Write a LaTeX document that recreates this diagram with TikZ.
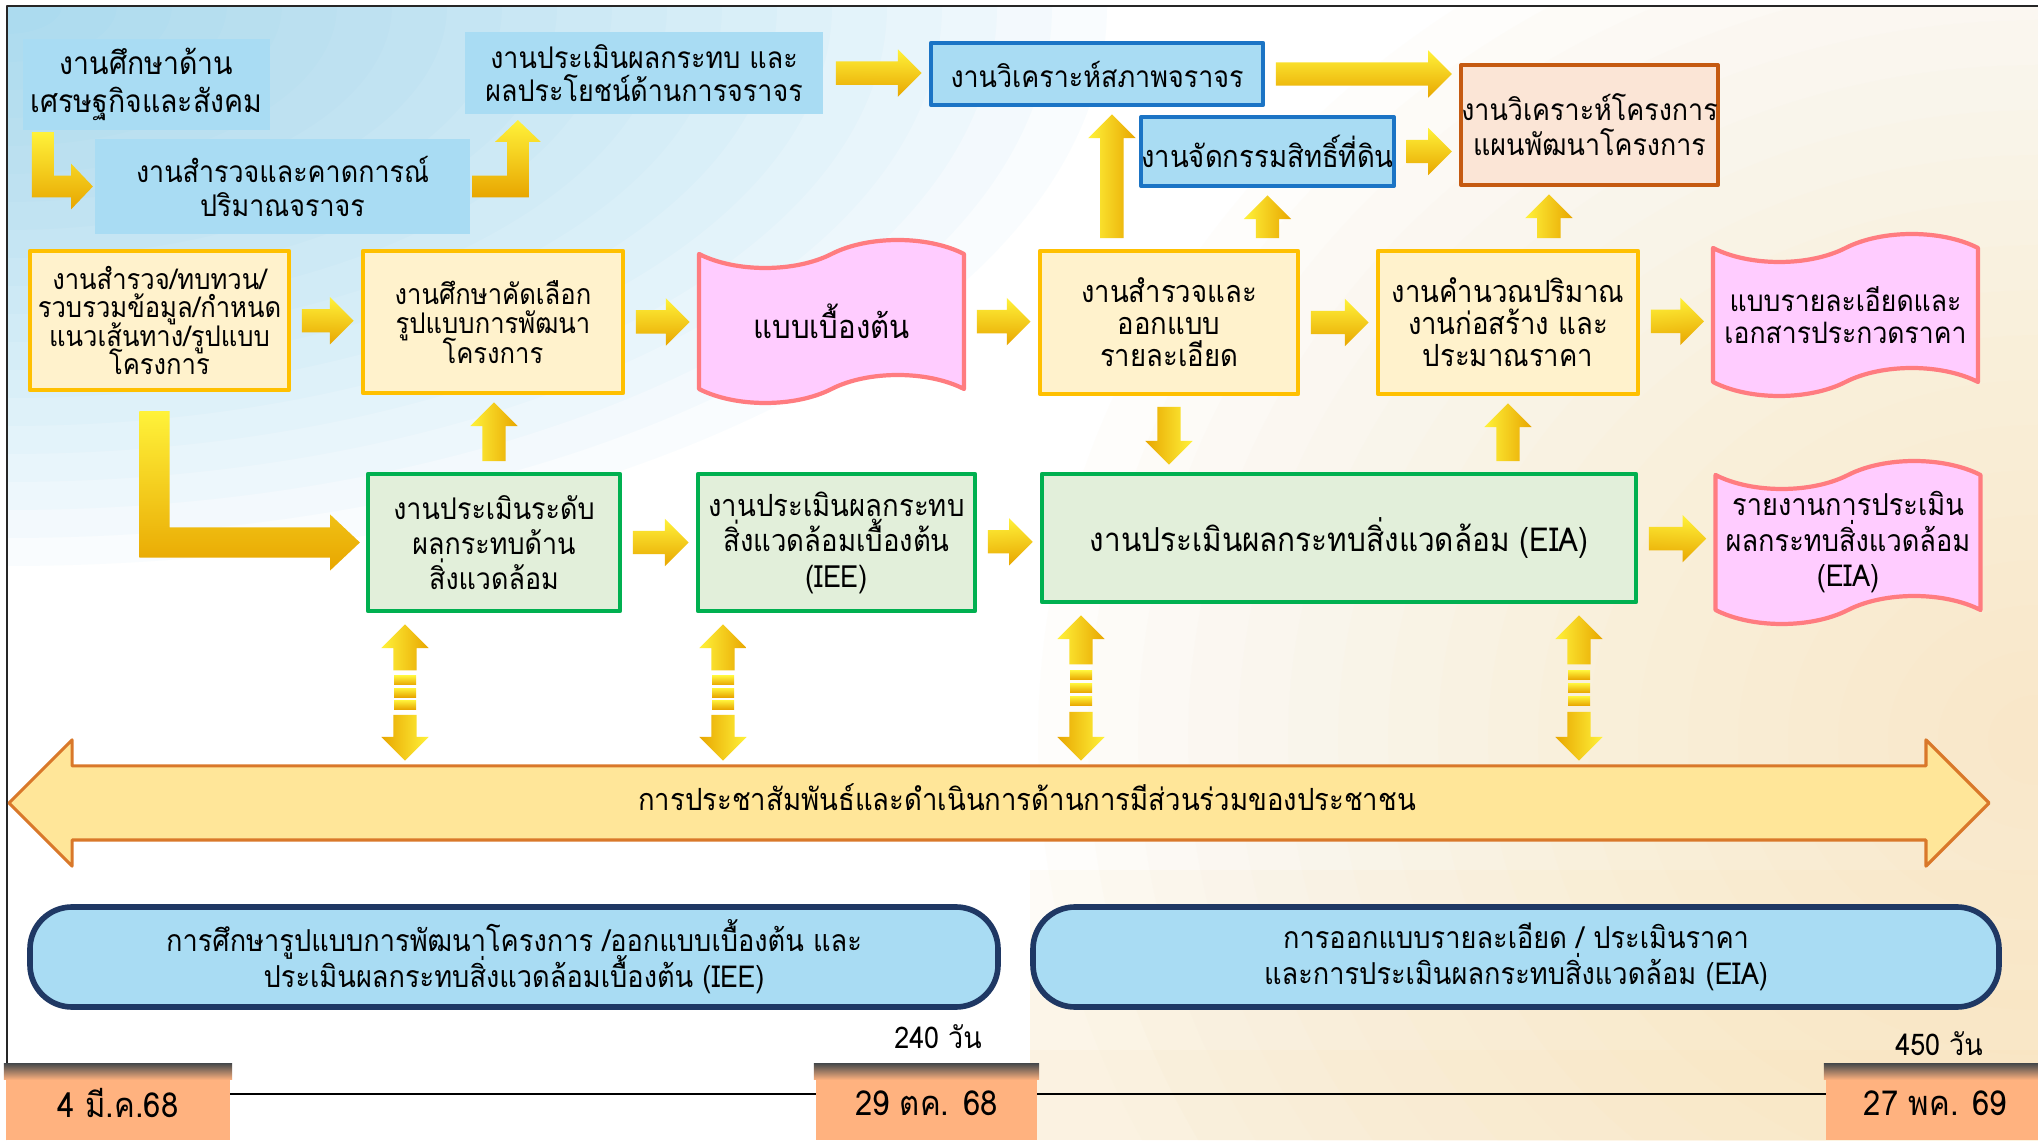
\documentclass[tikz,border=0pt]{standalone}
\usepackage{fontspec}
\newfontfamily\thai[Script=Thai,FakeStretch=0.9]{Loma}
\newcommand\tf[2]{\thai\fontsize{#1}{#2}\selectfont\lineskiplimit=-20pt\relax}
\usetikzlibrary{calc,shapes.arrows,shapes.symbols}
\definecolor{skyfill}{HTML}{A9DCF3}
\definecolor{lineblue}{HTML}{1B74C5}
\definecolor{peachfill}{HTML}{FBE5D6}
\definecolor{peachline}{HTML}{C55A11}
\definecolor{yelfill}{HTML}{FFF2CC}
\definecolor{yelline}{HTML}{FFC000}
\definecolor{grnfill}{HTML}{E2EFDA}
\definecolor{grnline}{HTML}{00B050}
\definecolor{pinkfill}{HTML}{FFCCFF}
\definecolor{pinkline}{HTML}{FF7C80}
\definecolor{navyline}{HTML}{1F3864}
\definecolor{bannerfill}{HTML}{FFE699}
\definecolor{bannerline}{HTML}{D9782A}
\definecolor{salmon}{HTML}{FFB27F}
\definecolor{gtop}{HTML}{FFF23A}
\definecolor{gbot}{HTML}{E8A600}
\definecolor{skyglow}{HTML}{7FCBEF}
\definecolor{creamglow}{HTML}{F9D89A}
\begin{document}
\begin{tikzpicture}[line join=round, font=\tf{8.5}{9.9},
	box/.style={rectangle, align=center, inner sep=0pt, line width=1.2pt},
	sky/.style={box, fill=skyfill},
	skyline/.style={sky, draw=lineblue},
	peach/.style={box, fill=peachfill, draw=peachline},
	yel/.style={box, fill=yelfill, draw=yelline, font=\tf{8.7}{9.1}},
	grn/.style={box, fill=grnfill, draw=grnline, font=\tf{8.5}{10}},
	doc/.style={tape, align=center, inner sep=0pt, fill=pinkfill, draw=pinkline, line width=1.2pt, minimum width=2.65cm, minimum height=1.63cm, tape bend height=.28cm, font=\tf{8.6}{10.1}},
	pill/.style={box, rounded corners=.42cm, fill=skyfill, draw=navyline, line width=1.6pt, minimum height=1cm, font=\tf{8.6}{10.3}},
	datebox/.style={box, fill=salmon, minimum height=.74cm, font=\tf{9.8}{11}},
	garrow/.style={single arrow, top color=gtop, bottom color=gbot, inner sep=.11cm, single arrow head extend=.12cm},
	gfill/.style={top color=gtop, bottom color=gbot}]
	\useasboundingbox (0,0) rectangle (20.38,11.40);
	\fill[white] (0,0) rectangle (20.38,11.40);
	\begin{scope}
		\clip (0.07,0) rectangle (20.38,11.34);
		\foreach \r in {1,...,20} \fill[skyglow, opacity=.045] (0.07,11.34) ellipse ({.55*\r} and {.28*\r});
		\foreach \r in {1,...,20} \fill[creamglow, opacity=.03] (20.38,4) ellipse ({.5*\r} and {.45*\r});
		\foreach \h in {.9,1.5,2.1,2.7} \fill[creamglow, opacity=.08] (10.3,0) rectangle (20.38,\h);
	\end{scope}
	\draw[line width=.8pt, black!85] (0.07,0) |- (20.38,11.34);
	\draw[line width=.7pt] (0.07,.46) -- (20.38,.46);
	% top row
	\node[sky, minimum width=2.47cm, minimum height=.91cm, font=\tf{9}{10.8}] (A) at (1.465,10.555) {งานศึกษาด้าน\\เศรษฐกิจและสังคม};
	\node[sky, minimum width=3.75cm, minimum height=.95cm] (B) at (2.825,9.535) {งานสำรวจและคาดการณ์\\ปริมาณจราจร};
	\node[sky, minimum width=3.58cm, minimum height=.82cm, font=\tf{8.5}{9.6}] (C) at (6.44,10.67) {งานประเมินผลกระทบ และ\\ผลประโยชน์ด้านการจราจร};
	\node[skyline, minimum width=3.32cm, minimum height=.62cm] (D) at (10.97,10.66) {งานวิเคราะห์สภาพจราจร};
	\node[skyline, minimum width=2.47cm, minimum height=.69cm, font=\tf{8.7}{10}] (E) at (12.675,9.885) {งานจัดกรรมสิทธิ์ที่ดิน};
	\node[peach, minimum width=2.47cm, minimum height=1.2cm] (F) at (15.895,10.15) {งานวิเคราะห์โครงการ\\แผนพัฒนาโครงการ};
	% design row
	\node[yel, minimum width=2.59cm, minimum height=1.39cm, font=\tf{8.1}{8.1}] (H1) at (1.595,8.195) {งานสำรวจ/ทบทวน/\\รวบรวมข้อมูล/กำหนด\\แนวเส้นทาง/รูปแบบ\\โครงการ};
	\node[yel, minimum width=2.6cm, minimum height=1.42cm, font=\tf{8.1}{8.5}] (H2) at (4.93,8.18) {งานศึกษาคัดเลือก\\รูปแบบการพัฒนา\\โครงการ};
	\node[doc, font=\tf{9.3}{11}] (W1) at (8.315,8.185) {แบบเบื้องต้น};
	\node[yel, minimum width=2.58cm, minimum height=1.43cm] (G) at (11.69,8.175) {งานสำรวจและ\\ออกแบบ\\รายละเอียด};
	\node[yel, minimum width=2.6cm, minimum height=1.43cm] (I) at (15.08,8.175) {งานคำนวณปริมาณ\\งานก่อสร้าง และ\\ประมาณราคา};
	\node[doc, minimum height=1.62cm, font=\tf{8.4}{9.2}] (W2) at (18.455,8.25) {แบบรายละเอียดและ\\เอกสารประกวดราคา};
	% environment row
	\node[grn, minimum width=2.52cm, minimum height=1.37cm] (J1) at (4.94,5.975) {งานประเมินระดับ\\ผลกระทบด้าน\\สิ่งแวดล้อม};
	\node[grn, minimum width=2.77cm, minimum height=1.37cm, font=\tf{8.7}{10.1}] (J2) at (8.365,5.975) {งานประเมินผลกระทบ\\สิ่งแวดล้อมเบื้องต้น\\(IEE)};
	\node[grn, minimum width=5.94cm, minimum height=1.28cm, font=\tf{9.4}{11}] (J3) at (13.39,6.02) {งานประเมินผลกระทบสิ่งแวดล้อม (EIA)};
	\node[doc] (W3) at (18.48,5.975) {รายงานการประเมิน\\ผลกระทบสิ่งแวดล้อม\\(EIA)};
	\node[double arrow, double arrow head extend=.26cm, minimum height=19.8cm, inner xsep=0pt, inner ysep=.225cm, text height=.2cm, text depth=.06cm, fill=bannerfill, draw=bannerline, line width=.9pt, font=\tf{8.7}{10}] (P) at (9.99,3.37) {\hspace{.56cm}การประชาสัมพันธ์และดำเนินการด้านการมีส่วนร่วมของประชาชน};
	\node[pill, minimum width=9.68cm] (K1) at (5.14,1.83) {การศึกษารูปแบบการพัฒนาโครงการ /ออกแบบเบื้องต้น และ\\ประเมินผลกระทบสิ่งแวดล้อมเบื้องต้น (IEE)};
	\node[pill, minimum width=9.66cm] (K2) at (15.16,1.83) {การออกแบบรายละเอียด / ประเมินราคา\\และการประเมินผลกระทบสิ่งแวดล้อม (EIA)};
	\node (d240) at (9.38,1.03) {240 วัน};
	\node (d450) at (19.39,.96) {450 วัน};
	\foreach \n/\x/\w/\t in {D1/1.18/2.24/4 มี.ค.68, D2/9.265/2.21/29 ตค. 68, D3/19.355/2.19/27 พค. 69}{
		\node[datebox, minimum width=\w cm] (\n) at (\x,.37) {\t};
		\shade[top color=black!70, bottom color=salmon] (\n.north west) rectangle ($(\n.north east)+(0,-.16)$);
	}
	% arrows
	\coordinate (g1) at ($(G.north west)+(.74,0)$);
	\coordinate (i1) at ($(I.north west)+(1.73,0)$);
	\foreach \a/\b [count=\k] in {C.east/D.west, D.east/D.east -| F.west, E.east/E.east -| F.west, g1/g1 |- D.south, E.south |- G.north/E.south, i1/i1 |- F.south, H1.east/H2.west, H2.east/W1.west, W1.east/G.west, G.east/I.west, I.east/W2.west, J1.north/J1.north |- H2.south, G.south/G.south |- J3.north, I.south |- J3.north/I.south, J1.east/J2.west, J2.east/J3.west, J3.east/W3.west}
		\path let \p1=($(\a)!1mm!(\b)$), \p2=($(\b)!.8mm!(\a)$), \n1={mod(atan2(\y2-\y1,\x2-\x1)+360,360)}, \n2={veclen(\x2-\x1,\y2-\y1)} in (\p1) node[garrow, anchor=tail, minimum height=\n2, shape border rotate=\n1, shading angle=\n1] (ar\k) {};
	\path[gfill] let \p1=($(A.south west)+(.22,0)$), \p2=(B.west) in (\x1-3.1pt,\y1) -- (\x1-3.1pt,\y2-3.1pt) -- (\x2-6.2pt,\y2-3.1pt) -- (\x2-6.2pt,\y2-6.5pt) -- (\p2) -- (\x2-6.2pt,\y2+6.5pt) -- (\x2-6.2pt,\y2+3.1pt) -- (\x1+3.1pt,\y2+3.1pt) -- (\x1+3.1pt,\y1) -- cycle;
	\path[gfill] let \p1=(B.east), \p2=($(C.south west)+(.55,-.04)$) in (\x1,\y1-3.1pt) -- (\x2+3.1pt,\y1-3.1pt) -- (\x2+3.1pt,\y2-6.2pt) -- (\x2+6.5pt,\y2-6.2pt) -- (\p2) -- (\x2-6.5pt,\y2-6.2pt) -- (\x2-3.1pt,\y2-6.2pt) -- (\x2-3.1pt,\y1+3.1pt) -- (\x1,\y1+3.1pt) -- cycle;
	\path[gfill] let \p1=($(H1.south)+(-.05,-.19)$), \p2=($(J1.west)+(-.06,0)$) in (\x1-4.3pt,\y1) -- (\x1-4.3pt,\y2-4.3pt) -- (\x2-8.5pt,\y2-4.3pt) -- (\x2-8.5pt,\y2-8pt) -- (\p2) -- (\x2-8.5pt,\y2+8pt) -- (\x2-8.5pt,\y2+4.3pt) -- (\x1+4.3pt,\y2+4.3pt) -- (\x1+4.3pt,\y1) -- cycle;
	\foreach \px/\bx [count=\k] in {4.05/J1, 7.23/J2, 10.81/J3, 15.79/J3}{
		\coordinate (t\k) at ($(\px,0 |- \bx.south)+(0,-.12)$);
		\coordinate (b\k) at ($(\px,0 |- P.center)+(0,.43)$);
		\path let \p1=(t\k), \p2=(b\k), \n1={.34*(\y1-\y2)} in
			(\x1,\y1-\n1) node[garrow, anchor=tail, minimum height=\n1, shape border rotate=90, shading angle=90] (up\k) {}
			(\x2,\y2+\n1) node[garrow, anchor=tail, minimum height=\n1, shape border rotate=270, shading angle=270] (dn\k) {};
		\foreach \f in {.41,.5,.59}
			\path[gfill] ($(t\k)!\f!(b\k)+(-.11,-.045)$) rectangle ++(.22,.09);
	}
\end{tikzpicture}
\end{document}
